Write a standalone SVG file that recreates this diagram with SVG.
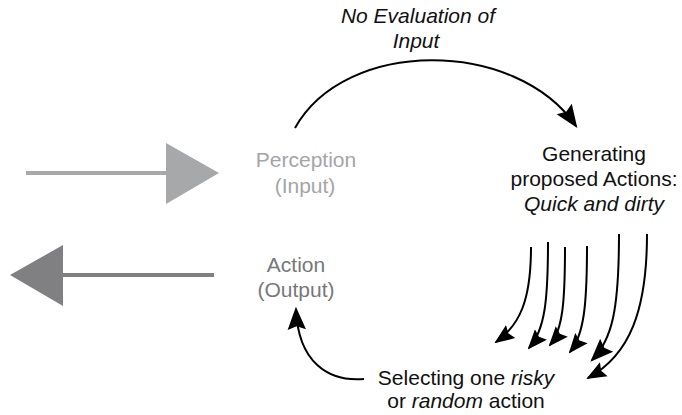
<svg xmlns="http://www.w3.org/2000/svg" width="682" height="415" viewBox="0 0 682 415">
  <style>
    text { font-family: "Liberation Sans", Arial, sans-serif; font-size: 21px; text-anchor: middle; fill: #111; }
    .it { font-style: italic; }
    .flow { fill: none; stroke: #000; stroke-width: 2; }
  </style>
  <defs>
    <marker id="head" viewBox="0 0 10 10" refX="9" refY="5" markerWidth="20" markerHeight="20" markerUnits="userSpaceOnUse" orient="auto">
      <path d="M0,1 L10,5 L0,9 L1.5,5 Z" fill="#000"/>
    </marker>
    <marker id="headL" viewBox="0 0 10 10" refX="9" refY="5" markerWidth="23" markerHeight="23" markerUnits="userSpaceOnUse" orient="auto">
      <path d="M0,1 L10,5 L0,9 L1.5,5 Z" fill="#000"/>
    </marker>
  </defs>

  <!-- input arrow -->
  <g id="input-arrow">
    <line x1="26" y1="173" x2="168" y2="173" stroke="#a7a8aa" stroke-width="4"/>
    <polygon points="166,143 219,173 166,204" fill="#a7a8aa"/>
  </g>
  <!-- output arrow -->
  <g id="output-arrow">
    <line x1="214" y1="275" x2="60" y2="275" stroke="#808082" stroke-width="4"/>
    <polygon points="63,245 10,275 63,306" fill="#808082"/>
  </g>

  <g id="perception">
    <text x="306" y="167" style="fill:#a4a5a7">Perception</text>
    <text x="305" y="193" style="fill:#a4a5a7">(Input)</text>
  </g>
  <g id="action">
    <text x="296" y="272" style="fill:#77787a">Action</text>
    <text x="296" y="297" style="fill:#77787a">(Output)</text>
  </g>
  <g id="generating">
    <text x="594" y="161">Generating</text>
    <text x="594" y="186">proposed Actions:</text>
    <text x="594" y="211" class="it">Quick and dirty</text>
  </g>
  <g id="selecting">
    <text x="466" y="385">Selecting one <tspan class="it">risky</tspan></text>
    <text x="466" y="408">or <tspan class="it">random</tspan> action</text>
  </g>
  <g id="label-no-eval">
    <text x="418" y="23" class="it">No Evaluation of</text>
    <text x="416" y="48" class="it">Input</text>
  </g>

  <g id="connectors">
    <path class="flow" d="M295,128 C345,38 515,38 576,126" marker-end="url(#headL)"/>
    <path class="flow" d="M531,247 C531,300 520,325 496,342" marker-end="url(#head)"/>
    <path class="flow" d="M548,242 C548,300 545,330 529,348" marker-end="url(#head)"/>
    <path class="flow" d="M565,247 C565,300 563,330 550,345" marker-end="url(#head)"/>
    <path class="flow" d="M587,246 C587,305 584,335 570,352" marker-end="url(#head)"/>
    <path class="flow" d="M619,234 C619,310 612,340 592,360" marker-end="url(#headL)"/>
    <path class="flow" d="M647,234 C647,310 630,355 588,378" marker-end="url(#head)"/>
    <path class="flow" d="M364,379 C328,382 298,362 296,309" marker-end="url(#headL)"/>
  </g>
</svg>
